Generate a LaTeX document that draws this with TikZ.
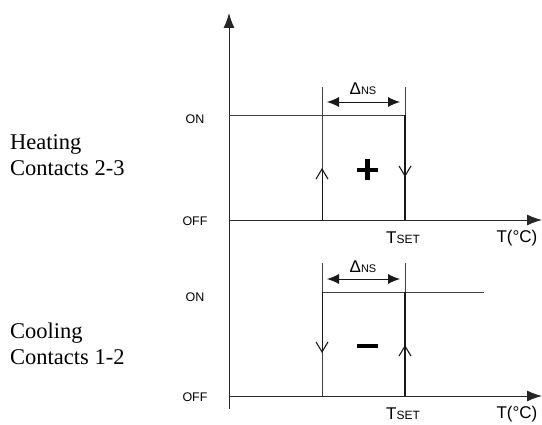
\documentclass[tikz,border=0pt]{standalone}
\usepackage{fontspec}
\setmainfont{Liberation Serif}
\setsansfont{Liberation Sans}
\usetikzlibrary{arrows.meta}
\begin{document}
\begin{tikzpicture}[x=1pt,y=-1pt,
  axis/.style={draw=black!85,line width=0.9pt},
  axarrow/.style={-{Latex[length=15pt,width=11pt]}},
  graph/.style={draw=black!75,line width=0.8pt},
  vtip/.style={-{Straight Barb[length=10pt,width=12pt,line width=1.1pt]},draw=black!90,line width=1pt},
  dtip/.style={{Latex[length=12pt,width=10pt]}-{Latex[length=12pt,width=10pt]},draw=black!90,line width=0.9pt},
  small/.style={font=\sffamily\fontsize{12.5}{14}\selectfont,inner sep=0pt},
  axlab/.style={font=\sffamily\fontsize{17}{19}\selectfont,inner sep=0pt},
  side/.style={font=\fontsize{22.5}{26}\selectfont,align=left,inner sep=0pt,anchor=west},
  sign/.style={inner sep=0pt}]
\useasboundingbox (0,0) rectangle (542,425);
% coordinates
\coordinate (vtop) at (229,13);
\coordinate (vbot) at (229,409);
\coordinate (h0) at (229,220);
\coordinate (hend) at (542,220);
\coordinate (c0) at (229,396);
\coordinate (cend) at (542,396);
\coordinate (hon0) at (229,115);
\coordinate (honR) at (405,115);
\coordinate (hLtop) at (322,87);
\coordinate (hLbot) at (322,220);
\coordinate (hRtop) at (405,87);
\coordinate (hRbot) at (405,220);
\coordinate (hLarr) at (322,168);
\coordinate (hRarr) at (405,177);
\coordinate (hdL) at (327,102);
\coordinate (hdR) at (400,102);
\coordinate (con0) at (322,292);
\coordinate (conR) at (484,292);
\coordinate (cLtop) at (322,263);
\coordinate (cLbot) at (322,396);
\coordinate (cRtop) at (405,263);
\coordinate (cRbot) at (405,396);
\coordinate (cLarr) at (322,353);
\coordinate (cRarr) at (405,345);
\coordinate (cdL) at (327,279);
\coordinate (cdR) at (400,279);
% axes
\draw[axis,axarrow] (vbot) -- (vtop);
\draw[axis,axarrow] (h0) -- (hend);
\draw[axis,axarrow] (c0) -- (cend);
% heating
\draw[graph] (hon0) -- (honR);
\draw[graph] (hLtop) -- (hLbot);
\draw[graph] (hRtop) -- (honR);
\draw[graph,draw=black!90,line width=1.1pt] (honR) -- (hRbot);
\draw[vtip] (hLbot) -- (hLarr);
\draw[vtip] (honR) -- (hRarr);
\draw[dtip] (hdL) -- (hdR);
% cooling
\draw[graph] (con0) -- (conR);
\draw[graph] (cLtop) -- (cLbot);
\draw[graph] (cRtop) -- (cRbot);
\draw[graph,draw=black!90,line width=1.1pt] (cRbot) -- (405,292);
\draw[vtip] (con0) -- (cLarr);
\draw[vtip] (cRbot) -- (cRarr);
\draw[dtip] (cdL) -- (cdR);
% labels
\node[small] (on1) at (195,119) {ON};
\node[small] (off1) at (195,221) {OFF};
\node[small] (on2) at (195,297) {ON};
\node[small] (off2) at (195,397) {OFF};
\node[side] (heat) at (10,155) {Heating\\Contacts 2-3};
\node[side] (cool) at (10,344) {Cooling\\Contacts 1-2};
\node[axlab] (dh) at (363,89) {Δ\fontsize{11}{12}\selectfont NS};
\node[axlab] (dc) at (363,267) {Δ\fontsize{11}{12}\selectfont NS};
\node[sign] (plus) at (367.5,170) {\rule{21pt}{4.5pt}\llap{\raisebox{-8.25pt}{\rule{4.5pt}{21pt}}\hspace{8.25pt}}};
\node[sign] (minus) at (367.5,346) {\rule{21pt}{4.5pt}};
\node[axlab] (ts1) at (403,238) {T\fontsize{12}{13}\selectfont SET};
\node[axlab] (ts2) at (403,414) {T\fontsize{12}{13}\selectfont SET};
\node[axlab] (tc1) at (517,238) {T(°C)};
\node[axlab] (tc2) at (517,414) {T(°C)};
\end{tikzpicture}
\end{document}
